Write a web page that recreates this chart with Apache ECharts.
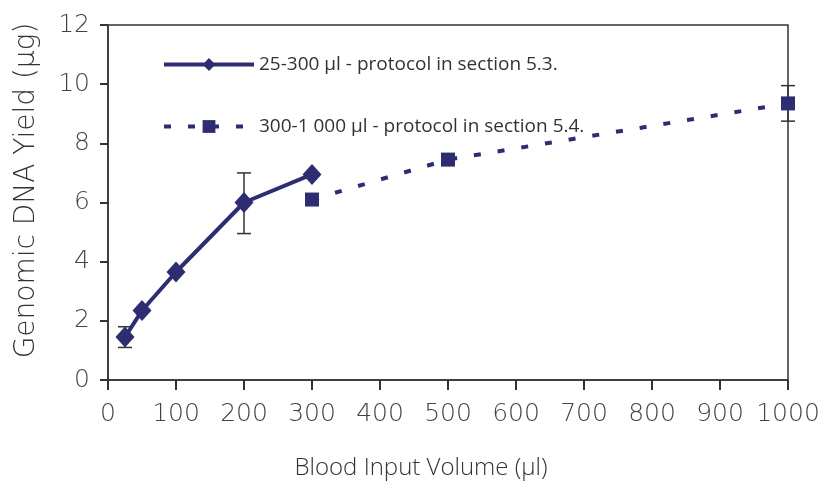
<!DOCTYPE html>
<html>
<head>
<meta charset="utf-8">
<script src="https://cdn.jsdelivr.net/npm/echarts@6/dist/echarts.min.js"></script>
<style>
  html, body { margin: 0; padding: 0; background: #fff; }
  #chart { width: 833px; height: 493px; }
</style>
</head>
<body>
<div id="chart"></div>
<script>
// data
const smallVolumes = [25, 50, 100, 200, 300];
const smallYield = [1.45, 2.35, 3.65, 6.0, 6.95];
const largeVolumes = [300, 500, 1000];
const largeYield = [6.1, 7.45, 9.35];
// error bars: [volume, low, high]
const errorBars = [
  [25, 1.1, 1.8],
  [200, 4.95, 7.0],
  [1000, 8.75, 9.95]
];
const seriesNames = ['25-300 µl - protocol in section 5.3.', '300-1 000 µl - protocol in section 5.4.'];

const navy = '#2e2d72';
const axisColor = '#333';
const wideFont = '"DejaVu Sans", sans-serif';
const textFont = '"Open Sans", "DejaVu Sans", sans-serif';

const chart = echarts.init(document.getElementById('chart'));
const option = {
  backgroundColor: '#fff',
  animation: false,
  grid: {
    left: 108,
    right: 45,
    top: 25,
    bottom: 113,
    outerBoundsMode: 'none',
    show: true,
    borderColor: axisColor,
    borderWidth: 1.5
  },
  legend: {
    orient: 'vertical',
    left: 162,
    top: 55,
    padding: 0,
    itemWidth: 90,
    itemHeight: 16,
    itemGap: 43,
    data: seriesNames,
    lineStyle: { width: 4 },
    textStyle: {
      fontFamily: textFont,
      fontSize: 19,
      color: '#333'
    }
  },
  xAxis: {
    type: 'value',
    min: 0,
    max: 1000,
    interval: 100,
    name: 'Blood Input Volume (µl)',
    nameLocation: 'middle',
    nameGap: 76,
    nameTextStyle: {
      fontFamily: textFont,
      fontSize: 24,
      fontWeight: 300,
      color: '#333',
      padding: [0, 54, 0, 0]
    },
    axisLine: { lineStyle: { color: axisColor, width: 1.5 } },
    axisTick: { show: true, length: 10, lineStyle: { color: axisColor, width: 2 } },
    axisLabel: {
      margin: 22,
      fontFamily: wideFont,
      fontSize: 25,
      fontWeight: 200,
      color: '#444',
      formatter: v => String(v)
    },
    splitLine: { show: false }
  },
  yAxis: {
    type: 'value',
    min: 0,
    max: 12,
    interval: 2,
    name: 'Genomic DNA Yield (µg)',
    nameLocation: 'middle',
    nameGap: 67,
    nameTextStyle: {
      fontFamily: wideFont,
      fontSize: 28,
      fontWeight: 200,
      color: '#333',
      padding: [0, 0, 0, 24]
    },
    axisLine: { show: true, lineStyle: { color: axisColor, width: 1.5 } },
    axisTick: { show: true, length: 8, lineStyle: { color: axisColor, width: 2 } },
    axisLabel: {
      margin: 18,
      fontFamily: wideFont,
      fontSize: 25,
      fontWeight: 200,
      color: '#444'
    },
    splitLine: { show: false }
  },
  series: [
    {
      name: seriesNames[0],
      type: 'line',
      data: smallVolumes.map((v, i) => [v, smallYield[i]]),
      symbol: 'diamond',
      symbolSize: [19, 21],
      itemStyle: { color: navy },
      lineStyle: { color: navy, width: 4 },
      z: 3
    },
    {
      name: seriesNames[1],
      type: 'line',
      data: largeVolumes.map((v, i) => [v, largeYield[i]]),
      symbol: 'rect',
      symbolSize: 14,
      itemStyle: { color: navy },
      lineStyle: { color: navy, width: 4, type: [7, 17] },
      z: 3
    },
    {
      type: 'custom',
      data: errorBars,
      z: 2,
      renderItem: (params, api) => {
        const x = api.value(0);
        const lo = api.coord([x, api.value(1)]);
        const hi = api.coord([x, api.value(2)]);
        const cap = 7;
        const style = { stroke: '#333', lineWidth: 1.5 };
        return {
          type: 'group',
          children: [
            { type: 'line', shape: { x1: lo[0], y1: lo[1], x2: hi[0], y2: hi[1] }, style },
            { type: 'line', shape: { x1: lo[0] - cap, y1: lo[1], x2: lo[0] + cap, y2: lo[1] }, style },
            { type: 'line', shape: { x1: hi[0] - cap, y1: hi[1], x2: hi[0] + cap, y2: hi[1] }, style }
          ]
        };
      },
      encode: { x: 0, y: [1, 2] }
    }
  ]
};
chart.setOption(option);
</script>
</body>
</html>
